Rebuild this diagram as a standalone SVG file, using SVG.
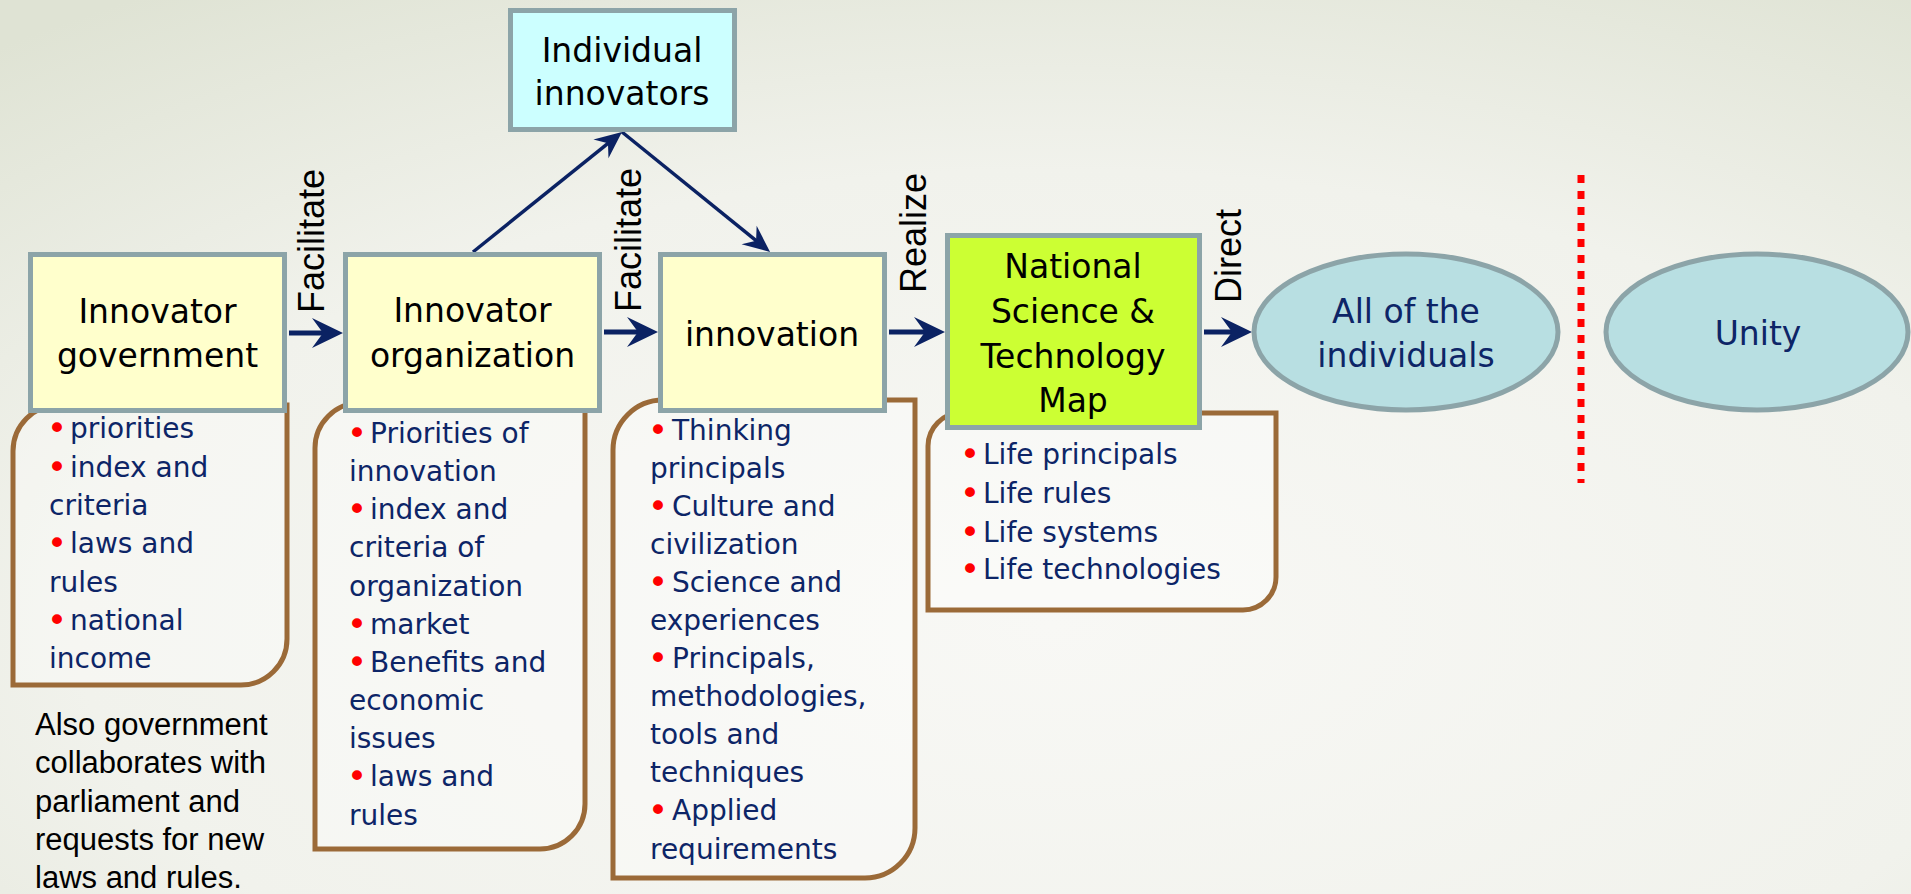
<svg xmlns="http://www.w3.org/2000/svg" width="1911" height="894" viewBox="0 0 1911 894">
  <defs>
    <radialGradient id="bg" cx="0.55" cy="0.7" r="0.85">
      <stop offset="0" stop-color="#f8f8f5"/>
      <stop offset="0.6" stop-color="#f1f2ec"/>
      <stop offset="1" stop-color="#dfe3d4"/>
    </radialGradient>
    <marker id="ah" markerUnits="userSpaceOnUse" markerWidth="40" markerHeight="40" viewBox="-40 -20 40 40" refX="-14" refY="0" orient="auto" overflow="visible">
      <path d="M0,0 L-31,-15 L-20,0 L-31,15 Z" fill="#0b2263"/>
    </marker>
    <marker id="ahs" markerUnits="userSpaceOnUse" markerWidth="40" markerHeight="40" viewBox="-40 -20 40 40" refX="-10" refY="0" orient="auto" overflow="visible">
      <path d="M0,0 L-27,-12 L-18,0 L-27,12 Z" fill="#0b2263"/>
    </marker>
    <style>
      .box{stroke:#8ca4a8;stroke-width:5}
      .yel{fill:#ffffcc}
      .grn{fill:#ccff33}
      .cyn{fill:#ccffff}
      .ell{fill:#b8dfe2;stroke:#8ca4a8;stroke-width:5}
      .brown{fill:#ffffff;fill-opacity:0.35;stroke:#9b6a38;stroke-width:5}
      .title{font-family:"DejaVu Sans",Verdana,sans-serif;font-size:33px;fill:#000;text-anchor:middle}
      .etitle{font-family:"DejaVu Sans",Verdana,sans-serif;font-size:33px;fill:#0d2567;text-anchor:middle}
      .bul{font-family:"DejaVu Sans",Verdana,sans-serif;font-size:28px;fill:#0d2567}
      .dot{fill:#ff0000;font-size:34px}
      .lab{font-family:"Liberation Sans",Arial,sans-serif;font-size:36px;fill:#000}
      .note{font-family:"Liberation Sans",Arial,sans-serif;font-size:31px;fill:#000}
      .conn{stroke:#0b2263;fill:none}
    </style>
  </defs>

  <rect x="0" y="0" width="1911" height="894" fill="url(#bg)"/>

  <!-- detail (brown) panels -->
  <g id="panel-government">
    <path class="brown" d="M59,405 L287,405 L287,639 A46,46 0 0 1 241,685 L13,685 L13,451 A46,46 0 0 1 59,405 Z"/>
    <text class="bul"><tspan x="47" y="440" class="dot">•</tspan><tspan x="70" y="438">priorities</tspan><tspan x="47" y="479" class="dot">•</tspan><tspan x="70" y="477">index and</tspan><tspan x="49" y="515">criteria</tspan><tspan x="47" y="555" class="dot">•</tspan><tspan x="70" y="553">laws and</tspan><tspan x="49" y="592">rules</tspan><tspan x="47" y="632" class="dot">•</tspan><tspan x="70" y="630">national</tspan><tspan x="49" y="668">income</tspan></text>
  </g>
  <g id="panel-organization">
    <path class="brown" d="M360,403 L585,403 L585,804 A45,45 0 0 1 540,849 L315,849 L315,448 A45,45 0 0 1 360,403 Z"/>
    <text class="bul"><tspan x="347" y="445" class="dot">•</tspan><tspan x="370" y="443">Priorities of</tspan><tspan x="349" y="481">innovation</tspan><tspan x="347" y="521" class="dot">•</tspan><tspan x="370" y="519">index and</tspan><tspan x="349" y="557">criteria of</tspan><tspan x="349" y="596">organization</tspan><tspan x="347" y="636" class="dot">•</tspan><tspan x="370" y="634">market</tspan><tspan x="347" y="674" class="dot">•</tspan><tspan x="370" y="672">Benefits and</tspan><tspan x="349" y="710">economic</tspan><tspan x="349" y="748">issues</tspan><tspan x="347" y="788" class="dot">•</tspan><tspan x="370" y="786">laws and</tspan><tspan x="349" y="825">rules</tspan></text>
  </g>
  <g id="panel-innovation">
    <path class="brown" d="M663,400 L915,400 L915,828 A50,50 0 0 1 865,878 L613,878 L613,450 A50,50 0 0 1 663,400 Z"/>
    <text class="bul"><tspan x="648" y="442" class="dot">•</tspan><tspan x="672" y="440">Thinking</tspan><tspan x="650" y="478">principals</tspan><tspan x="648" y="518" class="dot">•</tspan><tspan x="672" y="516">Culture and</tspan><tspan x="650" y="554">civilization</tspan><tspan x="648" y="594" class="dot">•</tspan><tspan x="672" y="592">Science and</tspan><tspan x="650" y="630">experiences</tspan><tspan x="648" y="670" class="dot">•</tspan><tspan x="672" y="668">Principals,</tspan><tspan x="650" y="706">methodologies,</tspan><tspan x="650" y="744">tools and</tspan><tspan x="650" y="782">techniques</tspan><tspan x="648" y="822" class="dot">•</tspan><tspan x="672" y="820">Applied</tspan><tspan x="650" y="859">requirements</tspan></text>
  </g>
  <g id="panel-map">
    <path class="brown" d="M961,413 L1276,413 L1276,577 A33,33 0 0 1 1243,610 L928,610 L928,446 A33,33 0 0 1 961,413 Z"/>
    <text class="bul"><tspan x="960" y="466" class="dot">•</tspan><tspan x="983" y="464">Life principals</tspan><tspan x="960" y="505" class="dot">•</tspan><tspan x="983" y="503">Life rules</tspan><tspan x="960" y="544" class="dot">•</tspan><tspan x="983" y="542">Life systems</tspan><tspan x="960" y="581" class="dot">•</tspan><tspan x="983" y="579">Life technologies</tspan></text>
  </g>

  <!-- connectors -->
  <g id="connectors">
    <line class="conn" x1="289" y1="333" x2="329" y2="333" stroke-width="5" marker-end="url(#ah)"/>
    <line class="conn" x1="604" y1="332" x2="644" y2="332" stroke-width="5" marker-end="url(#ah)"/>
    <line class="conn" x1="889" y1="332" x2="931" y2="332" stroke-width="5" marker-end="url(#ah)"/>
    <line class="conn" x1="1204" y1="332" x2="1238" y2="332" stroke-width="5" marker-end="url(#ah)"/>
    <line class="conn" x1="473" y1="252" x2="614.2" y2="138.3" stroke-width="3.5" marker-end="url(#ahs)"/>
    <line class="conn" x1="622" y1="132" x2="762.3" y2="245.7" stroke-width="3.5" marker-end="url(#ahs)"/>
    <text class="lab" transform="translate(324,313) rotate(-90)">Facilitate</text>
    <text class="lab" transform="translate(641,312) rotate(-90)">Facilitate</text>
    <text class="lab" transform="translate(926,293) rotate(-90)">Realize</text>
    <text class="lab" transform="translate(1241,303) rotate(-90)">Direct</text>
  </g>

  <!-- nodes -->
  <g id="innovator-government">
    <rect class="box yel" x="30.5" y="254.5" width="254" height="156"/>
    <text class="title" x="157.5" y="323">Innovator</text>
    <text class="title" x="157.5" y="367">government</text>
  </g>
  <g id="innovator-organization">
    <rect class="box yel" x="345.5" y="254.5" width="254" height="156"/>
    <text class="title" x="472.5" y="322">Innovator</text>
    <text class="title" x="472.5" y="367">organization</text>
  </g>
  <g id="innovation">
    <rect class="box yel" x="660.5" y="254.5" width="224" height="156"/>
    <text class="title" x="772" y="346">innovation</text>
  </g>
  <g id="individual-innovators">
    <rect class="box cyn" x="510.5" y="10.5" width="224" height="119"/>
    <text class="title" x="622" y="62">Individual</text>
    <text class="title" x="622" y="105">innovators</text>
  </g>
  <g id="national-map">
    <rect class="box grn" x="947.5" y="235.5" width="252" height="192"/>
    <text class="title" x="1073" y="278">National</text>
    <text class="title" x="1073" y="323">Science &amp;</text>
    <text class="title" x="1073" y="368">Technology</text>
    <text class="title" x="1073" y="412">Map</text>
  </g>
  <g id="all-individuals">
    <ellipse class="ell" cx="1406" cy="332" rx="152" ry="78"/>
    <text class="etitle" x="1406" y="323">All of the</text>
    <text class="etitle" x="1406" y="367">individuals</text>
  </g>
  <g id="divider">
    <line x1="1581" y1="175" x2="1581" y2="483" stroke="#ff0000" stroke-width="7" stroke-dasharray="8 8"/>
  </g>
  <g id="unity">
    <ellipse class="ell" cx="1757" cy="332" rx="151" ry="78"/>
    <text class="etitle" x="1758" y="345">Unity</text>
  </g>
  <g id="note">
    <text class="note"><tspan x="35" y="735">Also government</tspan><tspan x="35" y="773">collaborates with</tspan><tspan x="35" y="812">parliament and</tspan><tspan x="35" y="850">requests for new</tspan><tspan x="35" y="888">laws and rules.</tspan></text>
  </g>
</svg>
